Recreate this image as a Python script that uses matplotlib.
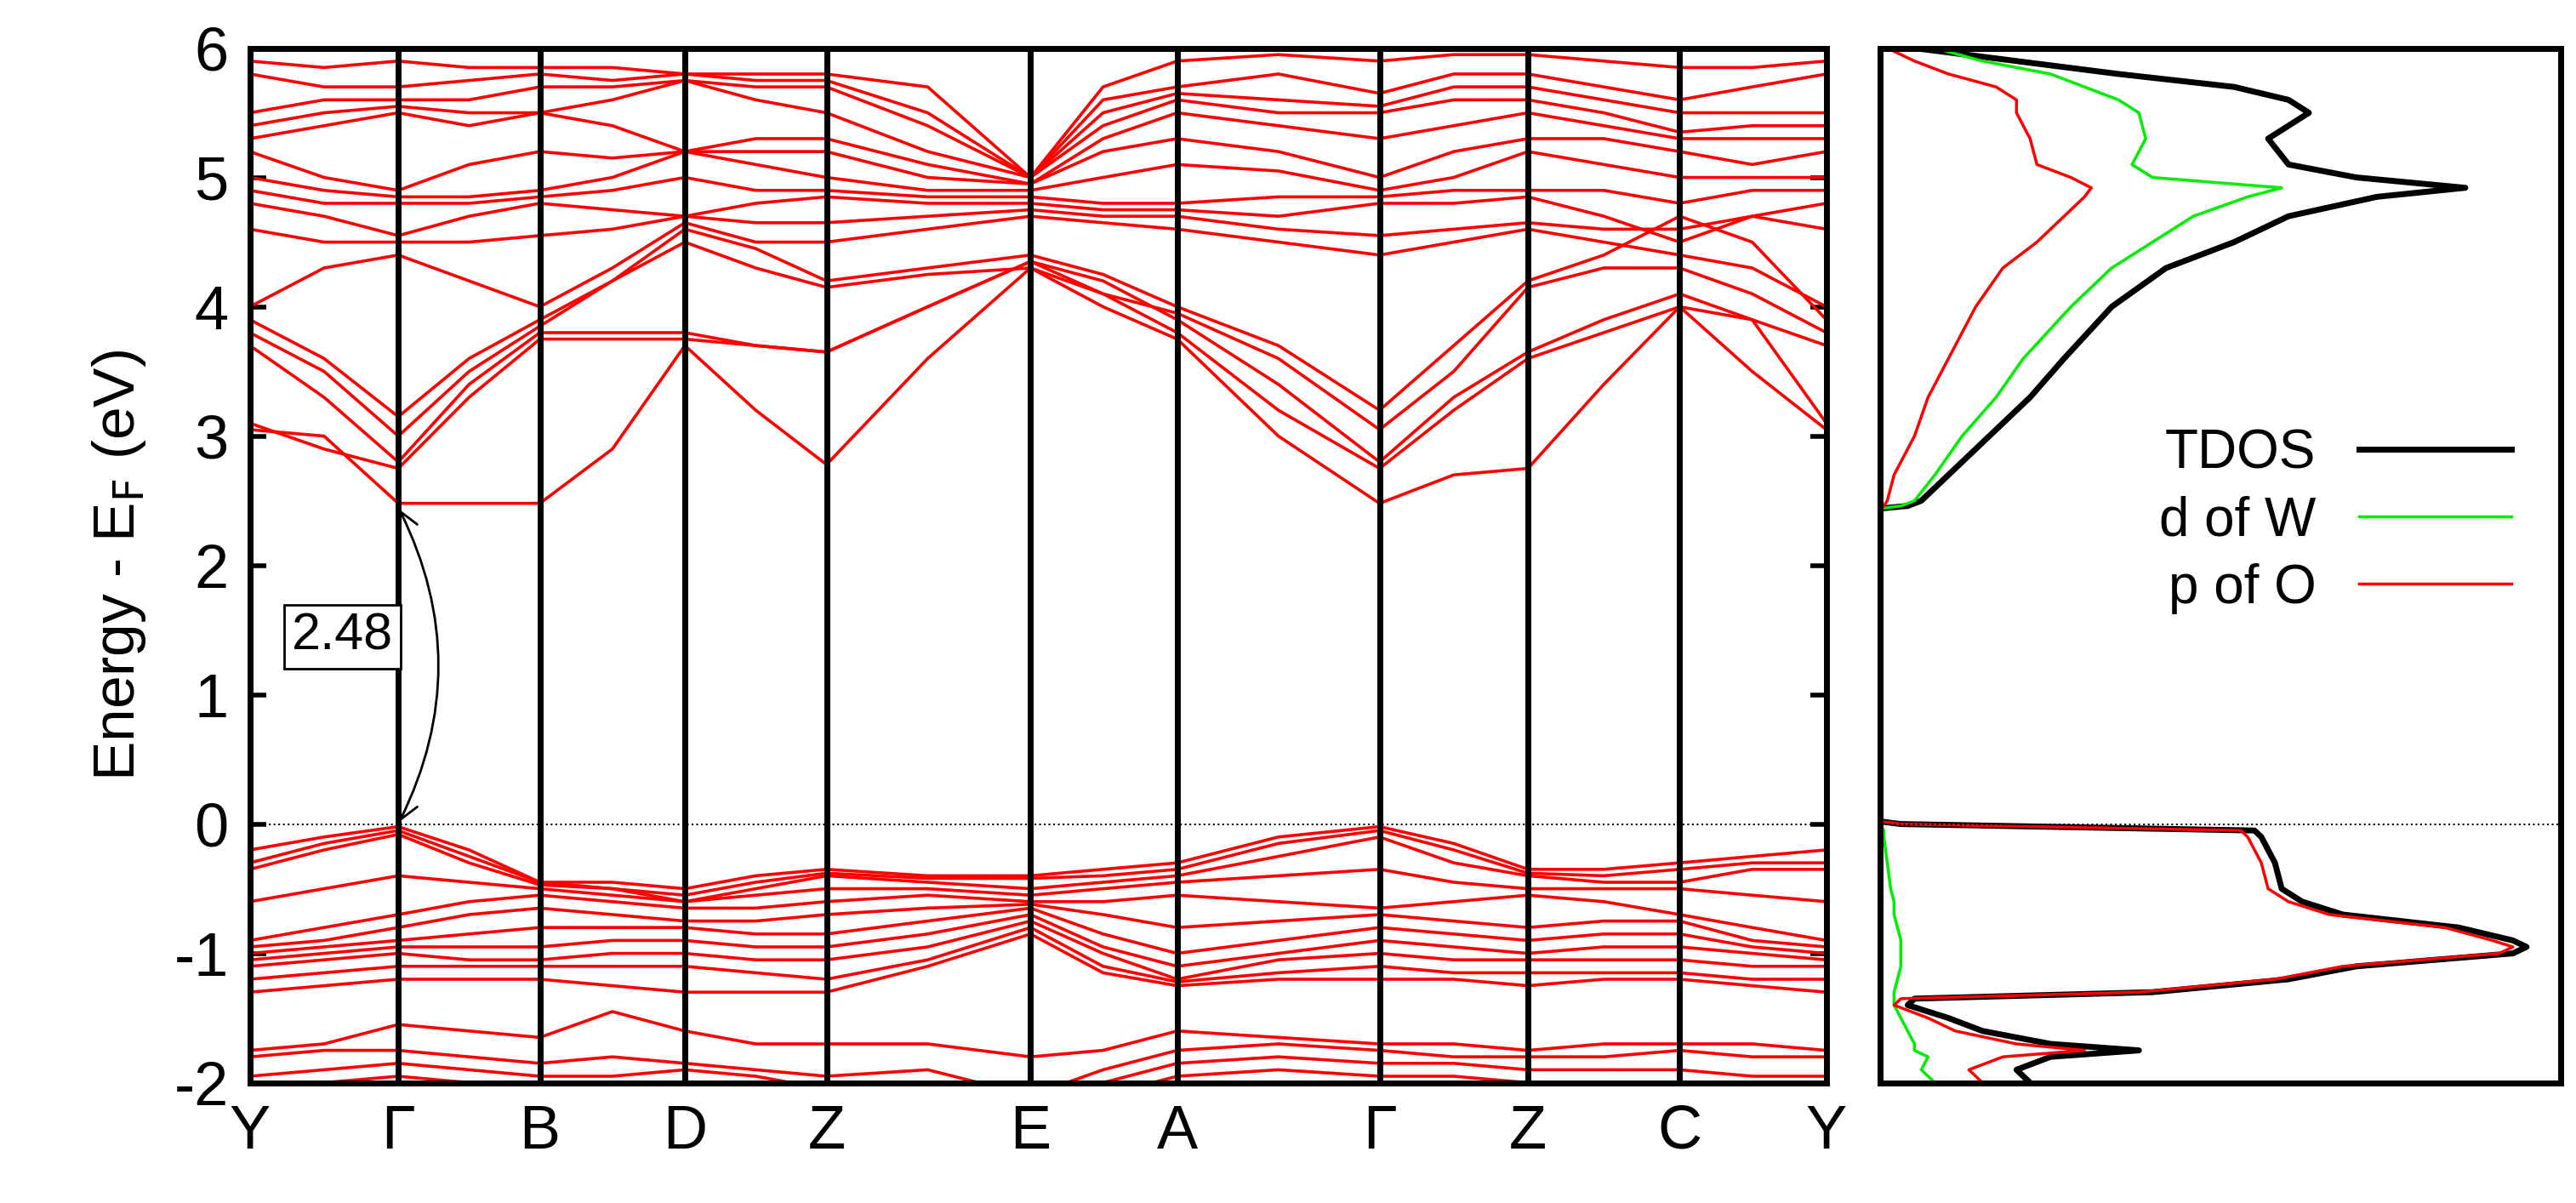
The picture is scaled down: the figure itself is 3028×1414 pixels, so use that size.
import matplotlib
matplotlib.use("Agg")
import matplotlib.pyplot as plt

kpath_labels = ["Y", "Γ", "B", "D", "Z", "E", "A", "Γ", "Z", "C", "Y"]
kpath_pos = [0, 88, 172, 258, 342, 463, 550, 670, 758, 848, 935]
knots = [0, 44, 88, 130, 172, 215, 258, 300, 342, 402, 463, 506, 550, 610, 670, 714, 758, 803, 848, 891, 935]

cond_bands = [
 [3.05,3.0,2.48,2.48,2.48,2.9,3.7,3.2,2.78,3.6,4.3,4.0,3.75,3.0,2.48,2.7,2.75,3.4,4.0,3.5,3.05],
 [3.1,2.9,2.75,3.3,3.75,3.75,3.75,3.7,3.65,4.0,4.35,4.1,3.8,3.2,2.75,3.2,3.6,3.8,4.0,3.9,3.1],
 [3.7,3.3,2.8,3.4,3.8,3.8,3.8,3.7,3.65,4.0,4.35,4.2,3.9,3.4,2.8,3.3,3.65,3.9,4.1,3.9,3.7],
 [3.8,3.5,3.0,3.5,3.85,4.2,4.5,4.3,4.15,4.25,4.3,4.1,3.95,3.6,3.05,3.5,4.15,4.3,4.3,4.1,3.8],
 [3.9,3.6,3.15,3.6,3.9,4.2,4.6,4.45,4.2,4.3,4.4,4.25,4.0,3.7,3.2,3.7,4.2,4.4,4.7,4.5,3.9],
 [4.0,4.3,4.4,4.2,4.0,4.3,4.65,4.5,4.5,4.6,4.7,4.65,4.6,4.5,4.4,4.5,4.6,4.5,4.4,4.3,4.0],
 [4.6,4.5,4.5,4.5,4.55,4.6,4.7,4.65,4.65,4.7,4.75,4.7,4.7,4.6,4.55,4.6,4.65,4.6,4.6,4.7,4.6],
 [4.8,4.7,4.55,4.7,4.8,4.75,4.7,4.8,4.85,4.8,4.8,4.75,4.75,4.7,4.8,4.8,4.85,4.7,4.5,4.7,4.8],
 [4.9,4.8,4.8,4.8,4.85,4.9,5.0,4.9,4.9,4.85,4.85,4.8,4.8,4.85,4.85,4.9,4.9,4.9,4.8,4.9,4.9],
 [5.0,4.9,4.85,4.85,4.9,5.0,5.2,5.1,5.0,4.9,4.9,5.0,5.1,5.05,4.9,5.0,5.2,5.1,5.0,5.0,5.0],
 [5.2,5.0,4.9,5.1,5.2,5.15,5.2,5.2,5.2,5.0,4.95,5.2,5.3,5.2,5.0,5.2,5.3,5.3,5.2,5.1,5.2],
 [5.3,5.4,5.5,5.4,5.5,5.4,5.2,5.3,5.3,5.1,4.95,5.3,5.5,5.4,5.3,5.4,5.5,5.4,5.3,5.3,5.3],
 [5.4,5.5,5.55,5.5,5.5,5.6,5.75,5.6,5.5,5.2,5.0,5.4,5.6,5.5,5.5,5.6,5.6,5.5,5.35,5.4,5.4],
 [5.5,5.6,5.6,5.6,5.7,5.7,5.75,5.7,5.7,5.4,5.0,5.5,5.65,5.6,5.55,5.7,5.7,5.6,5.5,5.5,5.5],
 [5.8,5.7,5.7,5.75,5.8,5.75,5.8,5.75,5.75,5.5,5.0,5.6,5.7,5.8,5.65,5.8,5.8,5.7,5.6,5.7,5.8],
 [5.9,5.85,5.9,5.85,5.85,5.85,5.8,5.8,5.8,5.7,5.0,5.7,5.9,5.95,5.9,5.95,5.95,5.9,5.85,5.85,5.9],
]
val_bands = [
 [-0.2,-0.1,-0.02,-0.2,-0.45,-0.45,-0.5,-0.4,-0.35,-0.4,-0.4,-0.35,-0.3,-0.1,-0.02,-0.15,-0.35,-0.35,-0.3,-0.25,-0.2],
 [-0.3,-0.15,-0.05,-0.25,-0.45,-0.5,-0.55,-0.45,-0.38,-0.42,-0.42,-0.4,-0.35,-0.15,-0.05,-0.2,-0.38,-0.4,-0.35,-0.3,-0.3],
 [-0.35,-0.2,-0.08,-0.3,-0.47,-0.5,-0.6,-0.5,-0.4,-0.45,-0.5,-0.45,-0.4,-0.25,-0.1,-0.3,-0.4,-0.45,-0.45,-0.35,-0.35],
 [-0.6,-0.5,-0.4,-0.45,-0.5,-0.55,-0.6,-0.55,-0.5,-0.5,-0.55,-0.5,-0.45,-0.4,-0.35,-0.45,-0.5,-0.5,-0.5,-0.55,-0.6],
 [-0.9,-0.8,-0.7,-0.6,-0.55,-0.6,-0.65,-0.65,-0.6,-0.55,-0.6,-0.6,-0.55,-0.6,-0.65,-0.6,-0.55,-0.6,-0.7,-0.8,-0.9],
 [-0.95,-0.9,-0.8,-0.7,-0.65,-0.7,-0.75,-0.75,-0.7,-0.65,-0.62,-0.7,-0.8,-0.75,-0.7,-0.75,-0.8,-0.75,-0.75,-0.9,-0.95],
 [-1.0,-0.95,-0.9,-0.85,-0.8,-0.8,-0.8,-0.85,-0.85,-0.75,-0.65,-0.85,-1.0,-0.9,-0.8,-0.85,-0.9,-0.85,-0.85,-0.95,-1.0],
 [-1.05,-1.0,-0.95,-0.95,-0.95,-0.9,-0.9,-0.95,-0.95,-0.85,-0.7,-0.95,-1.1,-1.0,-0.9,-0.95,-1.0,-0.95,-0.95,-1.0,-1.05],
 [-1.1,-1.05,-1.0,-1.05,-1.05,-1.0,-1.0,-1.05,-1.05,-0.95,-0.75,-1.0,-1.2,-1.05,-1.0,-1.05,-1.05,-1.05,-1.05,-1.1,-1.1],
 [-1.2,-1.15,-1.1,-1.1,-1.1,-1.1,-1.1,-1.15,-1.2,-1.05,-0.8,-1.1,-1.22,-1.15,-1.1,-1.15,-1.15,-1.15,-1.15,-1.2,-1.2],
 [-1.3,-1.25,-1.2,-1.2,-1.2,-1.25,-1.3,-1.3,-1.3,-1.1,-0.85,-1.15,-1.25,-1.2,-1.2,-1.2,-1.25,-1.2,-1.2,-1.25,-1.3],
 [-1.75,-1.7,-1.55,-1.6,-1.65,-1.45,-1.6,-1.7,-1.7,-1.7,-1.8,-1.75,-1.6,-1.65,-1.7,-1.7,-1.75,-1.7,-1.7,-1.7,-1.75],
 [-1.8,-1.75,-1.75,-1.8,-1.85,-1.8,-1.85,-1.9,-1.95,-1.9,-2.1,-1.9,-1.75,-1.7,-1.75,-1.8,-1.8,-1.8,-1.75,-1.8,-1.8],
 [-1.95,-1.9,-1.85,-1.9,-1.95,-1.95,-1.9,-1.95,-2.05,-2.1,-2.2,-2.0,-1.85,-1.8,-1.85,-1.85,-1.9,-1.9,-1.9,-1.95,-1.95],
 [-2.05,-2.0,-1.95,-2.0,-2.0,-2.05,-2.0,-2.05,-2.1,-2.2,-2.3,-2.1,-1.95,-1.9,-1.95,-1.95,-2.0,-2.0,-2.0,-2.05,-2.05],
]

# DOS
dos_E = [-2.0,-1.9,-1.8,-1.75,-1.7,-1.6,-1.5,-1.4,-1.35,-1.3,-1.2,-1.1,-1.0,-0.95,-0.9,-0.8,-0.7,-0.6,-0.5,-0.3,-0.1,-0.05,0.0,0.02,
         2.44,2.46,2.5,2.7,3.0,3.3,3.6,4.0,4.3,4.5,4.7,4.85,4.92,5.0,5.1,5.3,5.5,5.6,5.7,5.8,5.9,6.0]
tdos = [2.2,2.0,2.5,3.8,2.5,1.5,1.0,0.4,0.5,4.0,6.0,7.0,9.3,9.5,9.3,8.5,6.8,6.2,5.9,5.8,5.6,5.5,0.3,0.0,
        0.0,0.4,0.6,1.0,1.6,2.2,2.7,3.4,4.2,5.2,6.0,7.3,8.6,7.0,6.0,5.7,6.3,6.0,5.2,3.5,2.0,0.5]
dos_W = [0.8,0.6,0.7,0.5,0.5,0.4,0.3,0.2,0.2,0.2,0.25,0.3,0.3,0.3,0.3,0.25,0.2,0.2,0.15,0.1,0.05,0.05,0.0,0.0,
         0.0,0.3,0.5,0.8,1.2,1.7,2.1,2.8,3.4,4.0,4.6,5.4,5.9,4.0,3.7,3.9,3.8,3.5,3.0,2.5,1.5,0.8]
dos_O = [1.5,1.3,1.8,3.0,2.0,1.1,0.7,0.2,0.3,3.8,5.8,6.8,9.1,9.3,9.0,8.3,6.6,6.0,5.7,5.6,5.4,5.3,0.3,0.0,
         0.0,0.05,0.1,0.2,0.5,0.7,1.0,1.4,1.8,2.3,2.7,3.0,3.1,2.8,2.3,2.2,2.0,2.0,1.7,1.0,0.5,0.1]

plt.rcParams['font.family'] = ['Liberation Sans', 'DejaVu Sans']
plt.rcParams['axes.unicode_minus'] = False
fig = plt.figure(figsize=(30.28, 14.14), dpi=100)
ax = fig.add_axes([0.097, 0.100, 0.612, 0.860])
ax2 = fig.add_axes([0.730, 0.100, 0.264, 0.860])

for b in cond_bands + val_bands:
    ax.plot(knots, b, color='red', lw=2.6)
for p in kpath_pos[1:-1]:
    ax.axvline(p, color='black', lw=5)
ax.axhline(0, color='black', lw=1.5, ls=':')
ax.set_xlim(0, 935)
ax.set_ylim(-2, 6)
ax.set_xticks(kpath_pos)
ax.set_xticklabels(kpath_labels)
ax.set_yticks(range(-2, 7))
ax.tick_params(labelsize=52, width=4, length=14, direction='in', right=True, top=False, pad=18)
ax.set_ylabel('Energy - E$_\\mathrm{F}$ (eV)', fontsize=50, labelpad=22)
for s in ax.spines.values():
    s.set_linewidth(5)

ax.annotate('', xy=(88, 2.45), xytext=(88, 0.0), arrowprops=dict(arrowstyle='<->', color='black', lw=2, connectionstyle='arc3,rad=0.25', mutation_scale=40, shrinkA=2, shrinkB=2))
ax.text(55, 1.45, '2.48', fontsize=44, ha='center', va='center', bbox=dict(boxstyle='square,pad=0.15', fc='white', ec='black', lw=2))

ax2.plot(tdos, dos_E, color='black', lw=5, label='TDOS')
ax2.plot(dos_W, dos_E, color='#00ee00', lw=2.5, label='d of W')
ax2.plot(dos_O, dos_E, color='red', lw=2.5, label='p of O')
ax2.axhline(0, color='black', lw=1.5, ls=':')
ax2.set_xlim(0, 10)
ax2.set_ylim(-2, 6)
ax2.set_xticks([])
ax2.set_yticks([])
for s in ax2.spines.values():
    s.set_linewidth(5)
leg = ax2.legend(loc='upper right', bbox_to_anchor=(1.0, 0.68), fontsize=46, frameon=False,
                 markerfirst=False, handlelength=2.8, labelspacing=0.3)

fig.savefig('out.png', dpi=100)
